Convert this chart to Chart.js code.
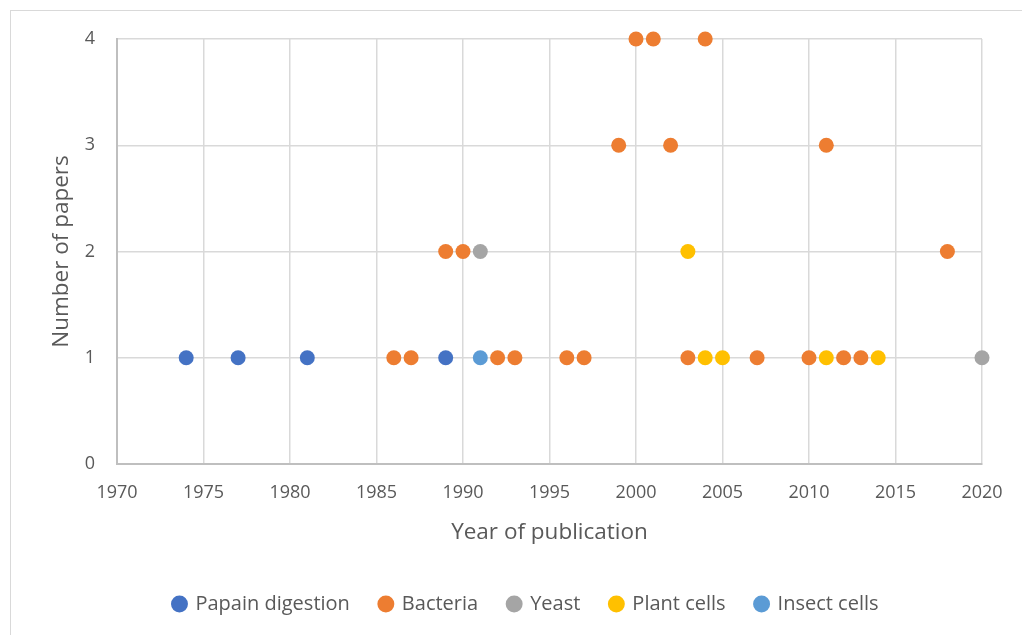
<!DOCTYPE html>
<html>
<head>
<meta charset="utf-8">
<script src="https://cdn.jsdelivr.net/npm/chart.js@4/dist/chart.umd.min.js"></script>
<style>
  html, body { margin: 0; padding: 0; background: #fff; }
  #wrap { position: relative; width: 1022px; height: 635px; overflow: hidden; }
  #frame { position: absolute; left: 10px; top: 10px; width: 1030px; height: 640px; border: 1px solid #d9d9d9; }
  #chart { position: absolute; left: 0; top: 0; }
</style>
</head>
<body>
<div id="wrap">
  <div id="frame"></div>
  <canvas id="chart" width="1022" height="635"></canvas>
</div>
<script>
const papainYears = [1974, 1977, 1981, 1989];
const papainCounts = [1, 1, 1, 1];

const bacteriaYears = [1986, 1987, 1989, 1990, 1992, 1993, 1996, 1997, 1999, 2000, 2001, 2002, 2003, 2004, 2007, 2010, 2011, 2012, 2013, 2018];
const bacteriaCounts = [1, 1, 2, 2, 1, 1, 1, 1, 3, 4, 4, 3, 1, 4, 1, 1, 3, 1, 1, 2];

const yeastYears = [1991, 2020];
const yeastCounts = [2, 1];

const plantYears = [2003, 2004, 2005, 2011, 2014];
const plantCounts = [2, 1, 1, 1, 1];

const insectYears = [1991];
const insectCounts = [1];

const textColor = "#595959";
const fontFamily = "'Open Sans', Lato, sans-serif";

function points(years, counts) {
  return years.map((yr, i) => ({ x: yr, y: counts[i] }));
}

function makeSeries(label, years, counts, color) {
  return {
    label: label,
    data: points(years, counts),
    backgroundColor: color,
    borderColor: color,
    borderWidth: 0,
    pointRadius: 7.5,
    pointHoverRadius: 7.5,
    pointStyle: "circle",
    clip: false,
  };
}

const chartConfig = {
  type: "scatter",
  data: {
    datasets: [
      makeSeries("Papain digestion", papainYears, papainCounts, "#4472c4"),
      makeSeries("Bacteria", bacteriaYears, bacteriaCounts, "#ed7d31"),
      makeSeries("Yeast", yeastYears, yeastCounts, "#a5a5a5"),
      makeSeries("Plant cells", plantYears, plantCounts, "#ffc000"),
      makeSeries("Insect cells", insectYears, insectCounts, "#5b9bd5"),
    ],
  },
  options: {
    responsive: false,
    animation: false,
    // left padding keeps the legend centred like the original frame
    layout: { padding: { top: 39, right: 40, left: 70, bottom: 11 } },
    scales: {
      x: {
        type: "linear",
        min: 1970,
        max: 2020,
        ticks: {
          stepSize: 5,
          color: textColor,
          font: { family: fontFamily, size: 18 },
          padding: 18,
          callback: (v) => String(v),
        },
        grid: { color: "#d9d9d9", lineWidth: 1.5, drawTicks: false },
        border: { color: "#bfbfbf", width: 2 },
        title: {
          display: true,
          text: "Year of publication",
          color: textColor,
          font: { family: fontFamily, size: 22.5 },
          padding: { top: 0, bottom: 18 },
        },
        afterFit: (scale) => { scale.height = 100; },
      },
      y: {
        min: 0,
        max: 4,
        ticks: {
          stepSize: 1,
          color: textColor,
          font: { family: fontFamily, size: 18 },
          padding: 22,
        },
        grid: { color: "#d9d9d9", lineWidth: 1.5, drawTicks: false },
        border: { color: "#bfbfbf", width: 2 },
        title: {
          display: true,
          text: "Number of papers",
          color: textColor,
          font: { family: fontFamily, size: 22.5 },
          padding: { top: -22, bottom: 0 },
        },
        afterFit: (scale) => { scale.width = 47; },
      },
    },
    plugins: {
      legend: {
        position: "bottom",
        labels: {
          usePointStyle: true,
          pointStyle: "circle",
          boxWidth: 12,
          boxHeight: 12,
          padding: 30,
          color: textColor,
          font: { family: fontFamily, size: 20 },
        },
      },
      tooltip: { enabled: false },
    },
  },
};

new Chart(document.getElementById("chart"), chartConfig);
</script>
</body>
</html>
